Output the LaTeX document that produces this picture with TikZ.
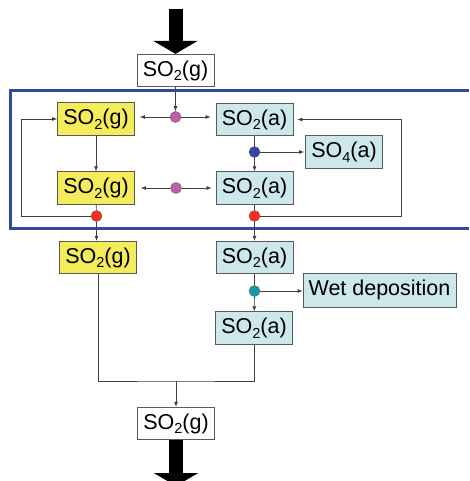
\documentclass[tikz,border=0pt]{standalone}
\usepackage{fontspec}
\setmainfont{Liberation Sans}
\usetikzlibrary{arrows.meta}
\definecolor{boxyellow}{HTML}{F5EC5C}
\definecolor{boxcyan}{HTML}{CCE8EA}
\definecolor{frameblue}{HTML}{3548A0}
\definecolor{dotpink}{HTML}{C45CAC}
\definecolor{dotblue}{HTML}{3344AA}
\definecolor{dotred}{HTML}{FF2A1A}
\definecolor{dotteal}{HTML}{119FA5}
% lowered, smaller index digit (SO2, SO4)
\newcommand{\lowidx}[1]{\raisebox{-0.4ex}{\fontsize{14.5}{14.5}\selectfont #1}}

\begin{document}
\begin{tikzpicture}[x=1pt,y=-1pt,
  box/.style={draw=black!65, line width=0.8pt, minimum width=77pt,
    minimum height=32.5pt, inner sep=0pt, font=\fontsize{21.5}{21.5}\selectfont},
  gas/.style={box, fill=boxyellow},
  aq/.style={box, fill=boxcyan},
  plainbox/.style={box, fill=white},
  dot/.style={circle, draw=black!60, line width=0.5pt, minimum size=11pt, inner sep=0pt},
  link/.style={draw=black!75, line width=0.7pt},
  flow/.style={link, -{Latex[length=5pt,width=4pt]}},
  bigarrow/.style={draw=black, line width=14pt, -{Triangle[length=13pt,width=44pt]}}
]
\useasboundingbox (0,0) rectangle (469,481);

% cloud-process frame (open on the right)
\draw[frameblue, line width=3pt] (469,90.5) -| (10.7,228) -- (469,228);

% boxes
\node[plainbox] (top) at (175.5,70.5) {SO\lowidx{2}(g)};
\node[gas] (g1) at (96,119) {SO\lowidx{2}(g)};
\node[aq]  (a1) at (254.5,119.5) {SO\lowidx{2}(a)};
\node[aq]  (s4) at (344,152) {SO\lowidx{4}(a)};
\node[gas] (g2) at (96,188) {SO\lowidx{2}(g)};
\node[aq]  (a2) at (254.5,188) {SO\lowidx{2}(a)};
\node[gas] (g3) at (98,257.5) {SO\lowidx{2}(g)};
\node[aq]  (a3) at (254.5,257.5) {SO\lowidx{2}(a)};
\node[aq, minimum width=153pt, minimum height=34pt] (wet) at (379.5,290) {Wet deposition};
\node[aq]  (a4) at (254,328) {SO\lowidx{2}(a)};
\node[plainbox] (bot) at (176,423.5) {SO\lowidx{2}(g)};

% process dots
\node[dot, fill=dotpink] (p1) at (175.5,117) {};
\node[dot, fill=dotpink] (p2) at (176,188) {};
\node[dot, fill=dotblue] (b1) at (254.5,152) {};
\node[dot, fill=dotred]  (rL) at (96.5,216) {};
\node[dot, fill=dotred]  (rR) at (254.5,216) {};
\node[dot, fill=dotteal] (t1) at (254.5,291) {};

% helper points
\coordinate (inTop) at (175.5,9);
\coordinate (outEnd) at (176,486);
\coordinate (loopL) at (21,216);
\coordinate (loopR) at (401,216);
\coordinate (merge) at (176,381);

% big in/out arrows
\draw[bigarrow] (inTop) -- (top.north);
\draw[bigarrow] (bot.south) -- (outEnd);

% connectors inside the frame
\draw[flow] (top) -- (p1);
\draw[flow, shorten >=5pt] (p1) -- (p1 -| g1.east);
\draw[flow, shorten >=5pt] (p1) -- (p1 -| a1.west);
\draw[flow] (g1) -- (g2);
\draw[link] (a1) -- (b1);
\draw[flow] (b1) -- (a2);
\draw[flow, shorten >=1pt] (b1) -- (b1 -| s4.west);
\draw[flow, shorten >=6pt] (p2) -- (p2 -| g2.east);
\draw[flow, shorten >=4pt] (p2) -- (p2 -| a2.west);
\draw[link] (g2) -- (rL);
\draw[link] (a2) -- (rR);
\draw[flow] (rL) -- (loopL) |- (g1.west);
\draw[flow, shorten >=4pt] (rR) -- (loopR) |- (a1.east);

% connectors below the frame
\draw[flow] (rL) -- (rL |- g3.north);
\draw[flow] (rR) -- (rR |- a3.north);
\draw[link] (a3) -- (t1);
\draw[flow] (t1) -- (a4);
\draw[flow] (t1) -- (t1 -| wet.west);
\draw[link] (g3.south) |- (merge) -| (a4.south);
\draw[flow] (merge) -- (bot.north);
\end{tikzpicture}
\end{document}
